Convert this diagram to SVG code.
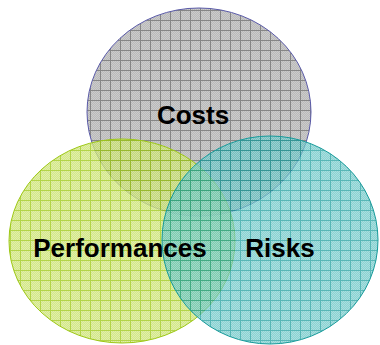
<svg xmlns="http://www.w3.org/2000/svg" width="380" height="345" viewBox="0 0 380 345">
<style>
.lbl{font-family:"Liberation Sans",Arial,sans-serif;font-weight:bold;font-size:26px;fill:#000;text-anchor:middle}
</style>
<defs>
<pattern id="chkG" width="2" height="2" patternUnits="userSpaceOnUse"><rect width="2" height="2" fill="#bababa"/><rect width="1" height="1" fill="#cbcbcb"/><rect x="1" y="1" width="1" height="1" fill="#cbcbcb"/></pattern>
<pattern id="gridG" width="10" height="10" patternUnits="userSpaceOnUse"><rect width="10" height="10" fill="url(#chkG)"/><path d="M0 0.5H10M0.5 0V10" stroke="#858585" stroke-width="1"/></pattern>
<pattern id="chkY" width="2" height="2" patternUnits="userSpaceOnUse"><rect width="2" height="2" fill="#c6e06c"/><rect width="1" height="1" fill="#d8ea90"/><rect x="1" y="1" width="1" height="1" fill="#d8ea90"/></pattern>
<pattern id="gridY" width="10" height="10" patternUnits="userSpaceOnUse"><rect width="10" height="10" fill="url(#chkY)"/><path d="M0 0.5H10M0.5 0V10" stroke="#9dc814" stroke-width="1"/></pattern>
<pattern id="chkT" width="2" height="2" patternUnits="userSpaceOnUse"><rect width="2" height="2" fill="#5fc0c0"/><rect width="1" height="1" fill="#88d2d2"/><rect x="1" y="1" width="1" height="1" fill="#88d2d2"/></pattern>
<pattern id="gridT" width="10" height="10" patternUnits="userSpaceOnUse"><rect width="10" height="10" fill="url(#chkT)"/><path d="M0 0.5H10M0.5 0V10" stroke="#169a9a" stroke-width="1"/></pattern>
</defs>
<g id="costs">
<ellipse cx="199" cy="112" rx="112" ry="104" fill="url(#gridG)" stroke="#5a5aa8" stroke-width="1"/>
</g>
<g id="performances">
<ellipse cx="122" cy="241" rx="113" ry="102" fill="url(#gridY)" fill-opacity="0.78" stroke="#9dc814" stroke-width="1"/>
</g>
<g id="risks">
<ellipse cx="270" cy="240" rx="108" ry="104" fill="url(#gridT)" fill-opacity="0.72" stroke="#169a9a" stroke-width="1"/>
</g>
<g id="connectors"></g>
<text class="lbl" x="193" y="124">Costs</text>
<text class="lbl" x="120" y="257">Performances</text>
<text class="lbl" x="280" y="257">Risks</text>
</svg>
